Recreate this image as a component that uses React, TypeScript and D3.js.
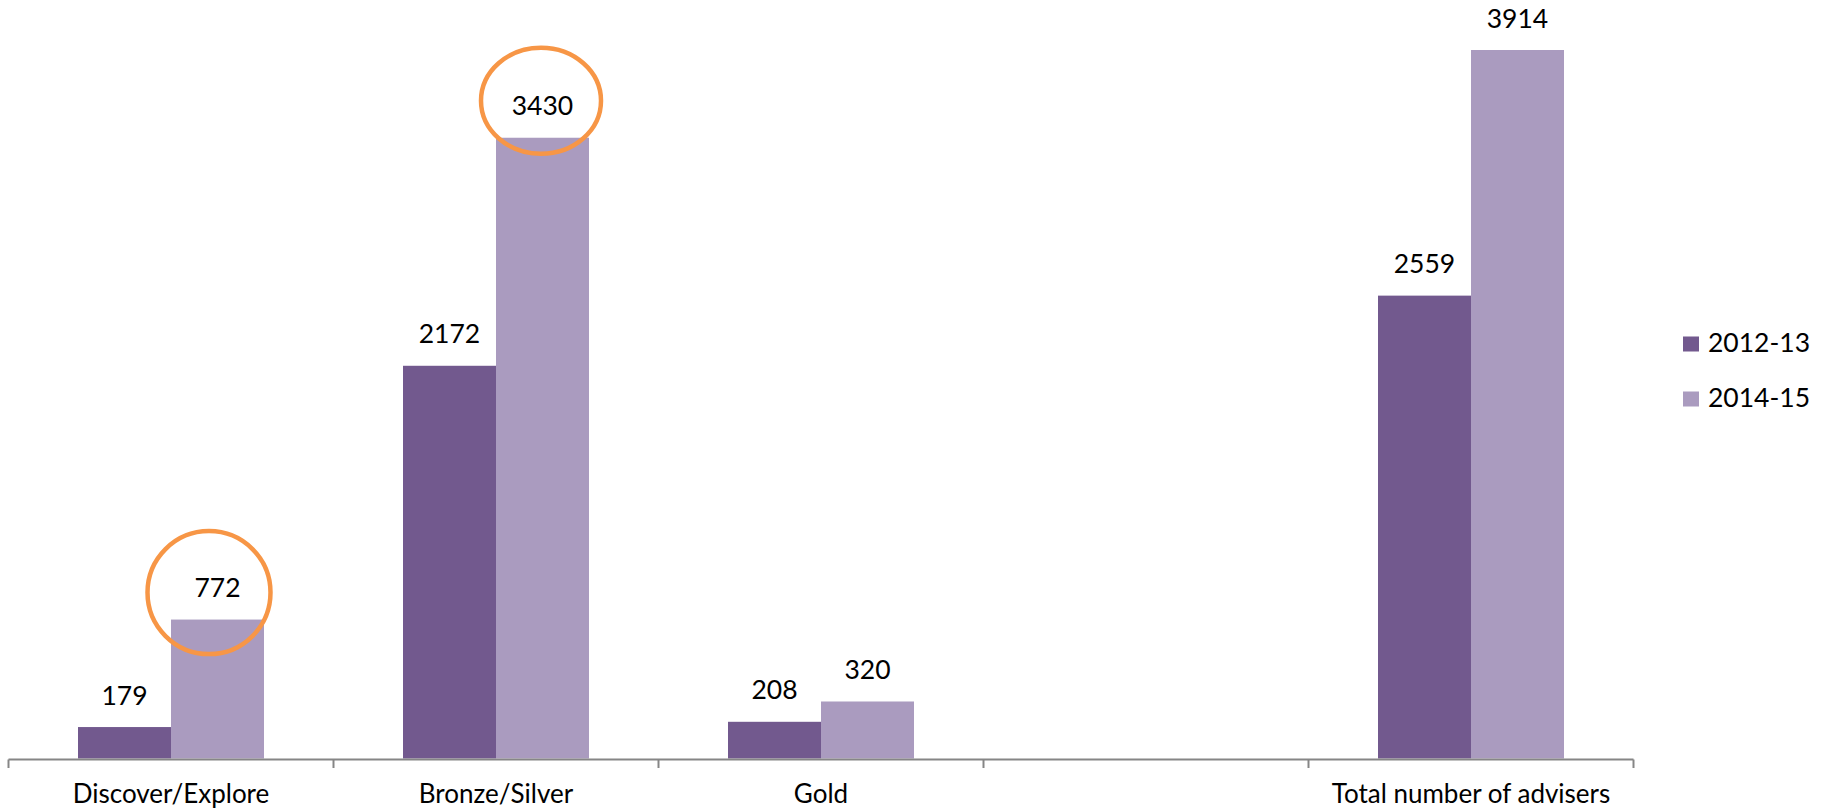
import React from "react";
import * as d3 from "d3";

const categories = ["Discover/Explore", "Bronze/Silver", "Gold", "", "Total number of advisers"];
const seriesNames = ["2012-13", "2014-15"];
const values2012 = [179, 2172, 208, null, 2559];
const values2014 = [772, 3430, 320, null, 3914];
const highlighted = [
  { category: "Discover/Explore", series: "2014-15", dx: -8.5, dy: -4.5, rx: 61.5, ry: 61.5 },
  { category: "Bronze/Silver", series: "2014-15", dx: -1.5, dy: -14.5, rx: 60, ry: 53 },
];

const W = 1829;
const H = 809;
const colors = ["#72598E", "#AA9BBF"];
const FONT = "Lato, 'Open Sans', sans-serif";
const FS = 26.5;

export default function App() {
  const x = d3.scaleBand<string>().domain(categories.map((c, i) => c || `blank${i}`)).range([8.5, 1633.5]);
  const y = d3.scaleLinear().domain([0, 4000]).range([759.5, 759.5 - 4000 * 0.18127]);
  const barW = 93;
  const series = [values2012, values2014];
  const keyOf = (i: number) => categories[i] || `blank${i}`;

  const bars: React.ReactNode[] = [];
  const labels: React.ReactNode[] = [];
  categories.forEach((c, i) => {
    const cx = x(keyOf(i))! + x.bandwidth() / 2;
    series.forEach((vals, s) => {
      const v = vals[i];
      if (v == null) return;
      const x0 = cx - barW + s * barW;
      bars.push(
        <rect key={`b${i}-${s}`} x={x0} y={y(v)} width={barW} height={y(0) - y(v) - 1} fill={colors[s]} />
      );
      labels.push(
        <text key={`l${i}-${s}`} x={x0 + barW / 2} y={y(v) - 22.5} textAnchor="middle" fontSize={FS} fill="#000">
          {v}
        </text>
      );
    });
  });

  const ticks = d3.range(categories.length + 1).map((i) => 8.5 + i * x.bandwidth());

  const ellipses = highlighted.map((h, k) => {
    const i = categories.indexOf(h.category);
    const s = seriesNames.indexOf(h.series);
    const v = series[s][i] as number;
    const cx = x(keyOf(i))! + x.bandwidth() / 2 - barW + s * barW + barW / 2;
    const ly = y(v) - 22.5;
    return (
      <ellipse key={`e${k}`} cx={cx + h.dx} cy={ly + h.dy} rx={h.rx} ry={h.ry} fill="none" stroke="#F79646" strokeWidth={4.5} />
    );
  });

  return (
    <svg width={W} height={H} style={{ position: "absolute", left: 0, top: 0, background: "#fff" }} fontFamily={FONT}>
      <rect x={0} y={0} width={W} height={H} fill="#fff" />
      {bars}
      <line x1={8.5} x2={1633.5} y1={759.5} y2={759.5} stroke="#868686" strokeWidth={2} />
      {ticks.map((t, i) => (
        <line key={`t${i}`} x1={t} x2={t} y1={759.5} y2={768} stroke="#868686" strokeWidth={2} />
      ))}
      {categories.map((c, i) => (
        <text key={`c${i}`} x={x(keyOf(i))! + x.bandwidth() / 2} y={802.5} textAnchor="middle" fontSize={26} fill="#000">
          {c}
        </text>
      ))}
      {labels}
      {ellipses}
      {seriesNames.map((n, s) => (
        <g key={`lg${s}`}>
          <rect x={1683} y={336.5 + s * 55} width={16} height={15} fill={colors[s]} />
          <text x={1708} y={352 + s * 55} fontSize={FS} fill="#000">
            {n}
          </text>
        </g>
      ))}
    </svg>
  );
}
